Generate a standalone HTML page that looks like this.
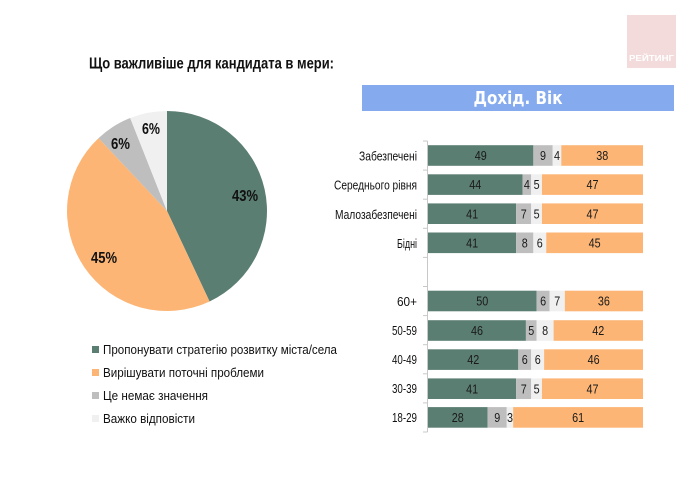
<!DOCTYPE html>
<html><head><meta charset="utf-8"><style>
html,body{margin:0;padding:0;background:#fff;}
svg{display:block;}
text{font-family:"Liberation Sans","Noto Sans CJK SC",sans-serif;}
</style></head><body>
<svg width="690" height="477" viewBox="0 0 690 477" xmlns="http://www.w3.org/2000/svg">
<rect width="690" height="477" fill="#fff"/>
<!-- logo -->
<rect x="627" y="15" width="49" height="53" fill="#f3dbdb"/>
<text x="651.5" y="61" font-size="8.5" font-weight="bold" fill="#fff" text-anchor="middle" textLength="45" lengthAdjust="spacingAndGlyphs">РЕЙТИНГ</text>
<!-- title -->
<text x="89" y="68.5" font-size="15.5" font-weight="bold" fill="#111" textLength="245" lengthAdjust="spacingAndGlyphs">Що важливіше для кандидата в мери:</text>
<!-- pie -->
<path d="M167,211 L167,111 A100,100 0 0 1 209.58,301.48 Z" fill="#5b7e72"/>
<path d="M167,211 L209.58,301.48 A100,100 0 0 1 98.55,138.10 Z" fill="#fcb575"/>
<path d="M167,211 L98.55,138.10 A100,100 0 0 1 130.19,118.02 Z" fill="#bebebe"/>
<path d="M167,211 L130.19,118.02 A100,100 0 0 1 167,111 Z" fill="#f0f0f0"/>
<g font-size="16" font-weight="bold" fill="#111">
<text x="232" y="201" textLength="26" lengthAdjust="spacingAndGlyphs">43%</text>
<text x="91" y="263" textLength="26" lengthAdjust="spacingAndGlyphs">45%</text>
<text x="111" y="149" textLength="19" lengthAdjust="spacingAndGlyphs">6%</text>
<text x="142" y="134" textLength="18" lengthAdjust="spacingAndGlyphs">6%</text>
</g>
<!-- legend -->
<rect x="92" y="346" width="7" height="7" fill="#5b7e72"/>
<rect x="92" y="369" width="7" height="7" fill="#fcb575"/>
<rect x="92" y="392" width="7" height="7" fill="#bebebe"/>
<rect x="92" y="415" width="7" height="7" fill="#f0f0f0"/>
<g font-size="12.5" fill="#111">
<text x="103" y="354" textLength="234" lengthAdjust="spacingAndGlyphs">Пропонувати стратегію розвитку міста/села</text>
<text x="103" y="377" textLength="161" lengthAdjust="spacingAndGlyphs">Вирішувати поточні проблеми</text>
<text x="103" y="400" textLength="105" lengthAdjust="spacingAndGlyphs">Це немає значення</text>
<text x="103" y="423" textLength="92" lengthAdjust="spacingAndGlyphs">Важко відповісти</text>
</g>
<!-- header bar -->
<rect x="362" y="85" width="312" height="26" fill="#85aaee"/>
<text x="518" y="104" font-size="18" font-weight="bold" fill="#fff" text-anchor="middle" textLength="89" lengthAdjust="spacingAndGlyphs" style="font-family:'DejaVu Sans',sans-serif">Дохід. Вік</text>
<!-- axis -->
<g stroke="#c8c8c8" stroke-width="1">
<line x1="427.5" y1="141" x2="427.5" y2="432"/>
<line x1="423" y1="141" x2="427.5" y2="141"/>
<line x1="423" y1="170.1" x2="427.5" y2="170.1"/>
<line x1="423" y1="199.2" x2="427.5" y2="199.2"/>
<line x1="423" y1="228.3" x2="427.5" y2="228.3"/>
<line x1="423" y1="257.4" x2="427.5" y2="257.4"/>
<line x1="423" y1="286.5" x2="427.5" y2="286.5"/>
<line x1="423" y1="315.6" x2="427.5" y2="315.6"/>
<line x1="423" y1="344.7" x2="427.5" y2="344.7"/>
<line x1="423" y1="373.8" x2="427.5" y2="373.8"/>
<line x1="423" y1="402.9" x2="427.5" y2="402.9"/>
<line x1="423" y1="432" x2="427.5" y2="432"/>
</g>
<!-- row labels -->
<g font-size="12.5" fill="#111" text-anchor="end">
<text x="417" y="160.5" textLength="58" lengthAdjust="spacingAndGlyphs">Забезпечені</text>
<text x="417" y="189.5" textLength="83" lengthAdjust="spacingAndGlyphs">Середнього рівня</text>
<text x="417" y="218.8" textLength="82" lengthAdjust="spacingAndGlyphs">Малозабезпечені</text>
<text x="417" y="247.8" textLength="20" lengthAdjust="spacingAndGlyphs">Бідні</text>
<text x="417" y="305.8" textLength="20" lengthAdjust="spacingAndGlyphs">60+</text>
<text x="417" y="335.2" textLength="25" lengthAdjust="spacingAndGlyphs">50-59</text>
<text x="417" y="364.2" textLength="25" lengthAdjust="spacingAndGlyphs">40-49</text>
<text x="417" y="393.2" textLength="25" lengthAdjust="spacingAndGlyphs">30-39</text>
<text x="417" y="422.2" textLength="25" lengthAdjust="spacingAndGlyphs">18-29</text>
</g>
<!-- bars -->
<g font-size="12.5" fill="#1a1a1a" text-anchor="middle">
<rect x="428" y="145.2" width="105.35" height="20.6" fill="#5b7e72"/>
<rect x="533.35" y="145.2" width="19.35" height="20.6" fill="#bebebe"/>
<rect x="552.7" y="145.2" width="8.6" height="20.6" fill="#f0f0f0"/>
<rect x="561.3" y="145.2" width="81.7" height="20.6" fill="#fcb575"/>
<text x="480.7" y="160" textLength="12" lengthAdjust="spacingAndGlyphs">49</text><text x="543" y="160" textLength="6" lengthAdjust="spacingAndGlyphs">9</text><text x="557" y="160" textLength="6" lengthAdjust="spacingAndGlyphs">4</text><text x="602.2" y="160" textLength="12" lengthAdjust="spacingAndGlyphs">38</text>

<rect x="428" y="174.3" width="94.6" height="20.6" fill="#5b7e72"/>
<rect x="522.6" y="174.3" width="8.6" height="20.6" fill="#bebebe"/>
<rect x="531.2" y="174.3" width="10.75" height="20.6" fill="#f0f0f0"/>
<rect x="541.95" y="174.3" width="101.05" height="20.6" fill="#fcb575"/>
<text x="475.3" y="189" textLength="12" lengthAdjust="spacingAndGlyphs">44</text><text x="526.9" y="189" textLength="6" lengthAdjust="spacingAndGlyphs">4</text><text x="536.6" y="189" textLength="6" lengthAdjust="spacingAndGlyphs">5</text><text x="592.5" y="189" textLength="12" lengthAdjust="spacingAndGlyphs">47</text>

<rect x="428" y="203.4" width="88.15" height="20.6" fill="#5b7e72"/>
<rect x="516.15" y="203.4" width="15.05" height="20.6" fill="#bebebe"/>
<rect x="531.2" y="203.4" width="10.75" height="20.6" fill="#f0f0f0"/>
<rect x="541.95" y="203.4" width="101.05" height="20.6" fill="#fcb575"/>
<text x="472.1" y="218.3" textLength="12" lengthAdjust="spacingAndGlyphs">41</text><text x="523.7" y="218.3" textLength="6" lengthAdjust="spacingAndGlyphs">7</text><text x="536.6" y="218.3" textLength="6" lengthAdjust="spacingAndGlyphs">5</text><text x="592.5" y="218.3" textLength="12" lengthAdjust="spacingAndGlyphs">47</text>

<rect x="428" y="232.5" width="88.15" height="20.6" fill="#5b7e72"/>
<rect x="516.15" y="232.5" width="17.2" height="20.6" fill="#bebebe"/>
<rect x="533.35" y="232.5" width="12.9" height="20.6" fill="#f0f0f0"/>
<rect x="546.25" y="232.5" width="96.75" height="20.6" fill="#fcb575"/>
<text x="472.1" y="247.4" textLength="12" lengthAdjust="spacingAndGlyphs">41</text><text x="524.8" y="247.4" textLength="6" lengthAdjust="spacingAndGlyphs">8</text><text x="539.8" y="247.4" textLength="6" lengthAdjust="spacingAndGlyphs">6</text><text x="594.6" y="247.4" textLength="12" lengthAdjust="spacingAndGlyphs">45</text>

<rect x="428" y="290.7" width="108.6" height="20.6" fill="#5b7e72"/>
<rect x="536.6" y="290.7" width="13.03" height="20.6" fill="#bebebe"/>
<rect x="549.63" y="290.7" width="15.2" height="20.6" fill="#f0f0f0"/>
<rect x="564.83" y="290.7" width="78.17" height="20.6" fill="#fcb575"/>
<text x="482.3" y="305.6" textLength="12" lengthAdjust="spacingAndGlyphs">50</text><text x="543.1" y="305.6" textLength="6" lengthAdjust="spacingAndGlyphs">6</text><text x="557.2" y="305.6" textLength="6" lengthAdjust="spacingAndGlyphs">7</text><text x="603.9" y="305.6" textLength="12" lengthAdjust="spacingAndGlyphs">36</text>

<rect x="428" y="320.2" width="97.92" height="20.6" fill="#5b7e72"/>
<rect x="525.92" y="320.2" width="10.64" height="20.6" fill="#bebebe"/>
<rect x="536.56" y="320.2" width="17.03" height="20.6" fill="#f0f0f0"/>
<rect x="553.59" y="320.2" width="89.41" height="20.6" fill="#fcb575"/>
<text x="477" y="335.1" textLength="12" lengthAdjust="spacingAndGlyphs">46</text><text x="531.2" y="335.1" textLength="6" lengthAdjust="spacingAndGlyphs">5</text><text x="545.1" y="335.1" textLength="6" lengthAdjust="spacingAndGlyphs">8</text><text x="598.3" y="335.1" textLength="12" lengthAdjust="spacingAndGlyphs">42</text>

<rect x="428" y="349.3" width="90.3" height="20.6" fill="#5b7e72"/>
<rect x="518.3" y="349.3" width="12.9" height="20.6" fill="#bebebe"/>
<rect x="531.2" y="349.3" width="12.9" height="20.6" fill="#f0f0f0"/>
<rect x="544.1" y="349.3" width="98.9" height="20.6" fill="#fcb575"/>
<text x="473.2" y="364.2" textLength="12" lengthAdjust="spacingAndGlyphs">42</text><text x="524.8" y="364.2" textLength="6" lengthAdjust="spacingAndGlyphs">6</text><text x="537.7" y="364.2" textLength="6" lengthAdjust="spacingAndGlyphs">6</text><text x="593.6" y="364.2" textLength="12" lengthAdjust="spacingAndGlyphs">46</text>

<rect x="428" y="378.4" width="88.15" height="20.6" fill="#5b7e72"/>
<rect x="516.15" y="378.4" width="15.05" height="20.6" fill="#bebebe"/>
<rect x="531.2" y="378.4" width="10.75" height="20.6" fill="#f0f0f0"/>
<rect x="541.95" y="378.4" width="101.05" height="20.6" fill="#fcb575"/>
<text x="472.1" y="393.3" textLength="12" lengthAdjust="spacingAndGlyphs">41</text><text x="523.7" y="393.3" textLength="6" lengthAdjust="spacingAndGlyphs">7</text><text x="536.6" y="393.3" textLength="6" lengthAdjust="spacingAndGlyphs">5</text><text x="592.5" y="393.3" textLength="12" lengthAdjust="spacingAndGlyphs">47</text>

<rect x="428" y="407.1" width="59.6" height="20.6" fill="#5b7e72"/>
<rect x="487.6" y="407.1" width="19.16" height="20.6" fill="#bebebe"/>
<rect x="506.76" y="407.1" width="6.39" height="20.6" fill="#f0f0f0"/>
<rect x="513.15" y="407.1" width="129.85" height="20.6" fill="#fcb575"/>
<text x="457.8" y="422" textLength="12" lengthAdjust="spacingAndGlyphs">28</text><text x="497.2" y="422" textLength="6" lengthAdjust="spacingAndGlyphs">9</text><text x="510" y="422" textLength="6" lengthAdjust="spacingAndGlyphs">3</text><text x="578.1" y="422" textLength="12" lengthAdjust="spacingAndGlyphs">61</text>
</g>
</svg>
</body></html>
